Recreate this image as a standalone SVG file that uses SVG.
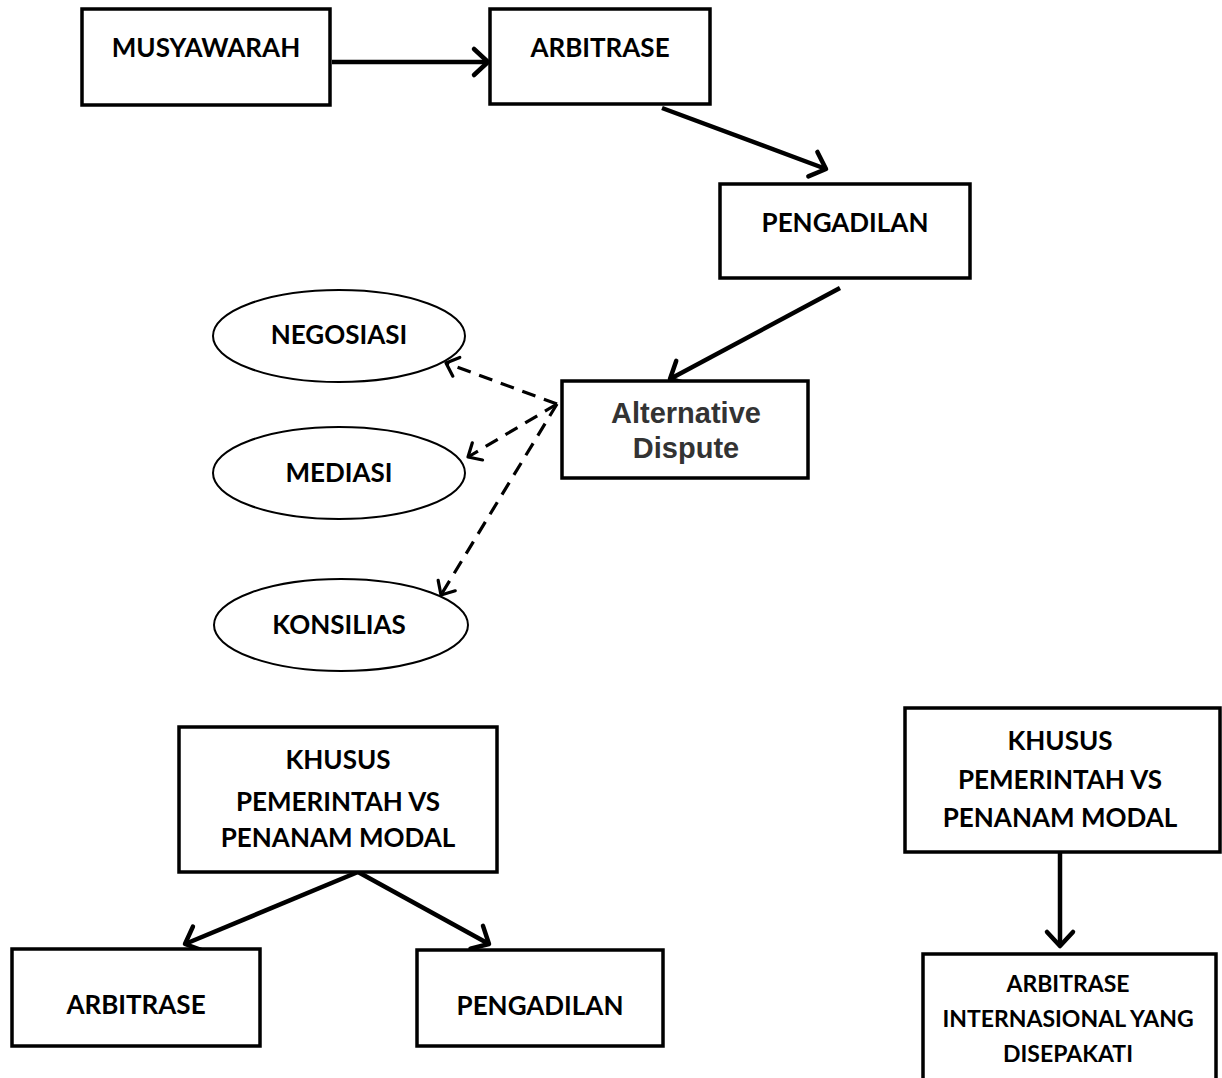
<svg xmlns="http://www.w3.org/2000/svg" width="1222" height="1078" viewBox="0 0 1222 1078">
<style>
.box{fill:#fff;stroke:#000;stroke-width:3.5}
.ell{fill:#fff;stroke:#000;stroke-width:2}
.t{font-family:Lato,"Open Sans","Liberation Sans",sans-serif;font-weight:bold;font-size:26px;fill:#000;text-anchor:middle;dominant-baseline:central}
.s{font-size:23px}
.t2{font-family:"Liberation Sans",Arial,sans-serif;font-weight:bold;font-size:29px;fill:#333;text-anchor:middle;dominant-baseline:central}
.c{fill:none;stroke:#000;stroke-width:4.5}
.d{fill:none;stroke:#000;stroke-width:3.2;stroke-dasharray:14 9}
</style>
<defs>
<marker id="ah" markerUnits="userSpaceOnUse" markerWidth="40" markerHeight="40" refX="20" refY="20" orient="auto" viewBox="0 0 40 40">
<polyline points="6,7 20,20 6,33" fill="none" stroke="#000" stroke-width="4.5" stroke-linecap="round" stroke-linejoin="round"/>
</marker>
<marker id="ad" markerUnits="userSpaceOnUse" markerWidth="30" markerHeight="30" refX="15" refY="15" orient="auto" viewBox="0 0 30 30">
<polyline points="4,5 15,15 4,25" fill="none" stroke="#000" stroke-width="3.2" stroke-linecap="round" stroke-linejoin="round"/>
</marker>
</defs>
<g id="connectors">
<line class="c" x1="332" y1="62" x2="488" y2="62" marker-end="url(#ah)"/>
<line class="c" x1="662" y1="108" x2="826" y2="169" marker-end="url(#ah)"/>
<line class="c" x1="840" y1="288" x2="670" y2="379" marker-end="url(#ah)"/>
<line class="d" x1="557" y1="404" x2="446" y2="363" marker-end="url(#ad)"/>
<line class="d" x1="557" y1="404" x2="468" y2="457" marker-end="url(#ad)"/>
<line class="d" x1="557" y1="404" x2="441" y2="595" marker-end="url(#ad)"/>
<line class="c" x1="358" y1="872" x2="185" y2="944" marker-end="url(#ah)"/>
<line class="c" x1="358" y1="872" x2="489" y2="944" marker-end="url(#ah)"/>
<line class="c" x1="1060" y1="852" x2="1060" y2="946" marker-end="url(#ah)"/>
</g>
<g id="musyawarah"><rect class="box" x="82" y="9" width="248" height="96"/><text class="t" x="206" y="47">MUSYAWARAH</text></g>
<g id="arbitrase"><rect class="box" x="490" y="9" width="220" height="95"/><text class="t" x="600" y="47">ARBITRASE</text></g>
<g id="pengadilan"><rect class="box" x="720" y="184" width="250" height="94"/><text class="t" x="845" y="222">PENGADILAN</text></g>
<g id="alternative"><rect class="box" x="562" y="381" width="246" height="97"/><text class="t2" x="686" y="413">Alternative</text><text class="t2" x="686" y="448">Dispute</text></g>
<g id="negosiasi"><ellipse class="ell" cx="339" cy="336" rx="126" ry="46"/><text class="t" x="339" y="334">NEGOSIASI</text></g>
<g id="mediasi"><ellipse class="ell" cx="339" cy="473" rx="126" ry="46"/><text class="t" x="339" y="472">MEDIASI</text></g>
<g id="konsilias"><ellipse class="ell" cx="341" cy="625" rx="127" ry="46"/><text class="t" x="339" y="624">KONSILIAS</text></g>
<g id="khusus1"><rect class="box" x="179" y="727" width="318" height="145"/><text class="t" x="338" y="759">KHUSUS</text><text class="t" x="338" y="801">PEMERINTAH VS</text><text class="t" x="338" y="837">PENANAM MODAL</text></g>
<g id="arbitrase2"><rect class="box" x="12" y="949" width="248" height="97"/><text class="t" x="136" y="1004">ARBITRASE</text></g>
<g id="pengadilan2"><rect class="box" x="417" y="950" width="246" height="96"/><text class="t" x="540" y="1005">PENGADILAN</text></g>
<g id="khusus2"><rect class="box" x="905" y="708" width="315" height="144"/><text class="t" x="1060" y="740">KHUSUS</text><text class="t" x="1060" y="779">PEMERINTAH VS</text><text class="t" x="1060" y="817">PENANAM MODAL</text></g>
<g id="arbitrase3"><rect class="box" x="923" y="954" width="293" height="140"/><text class="t s" x="1068" y="983">ARBITRASE</text><text class="t s" x="1068" y="1018">INTERNASIONAL YANG</text><text class="t s" x="1068" y="1053">DISEPAKATI</text></g>
</svg>
